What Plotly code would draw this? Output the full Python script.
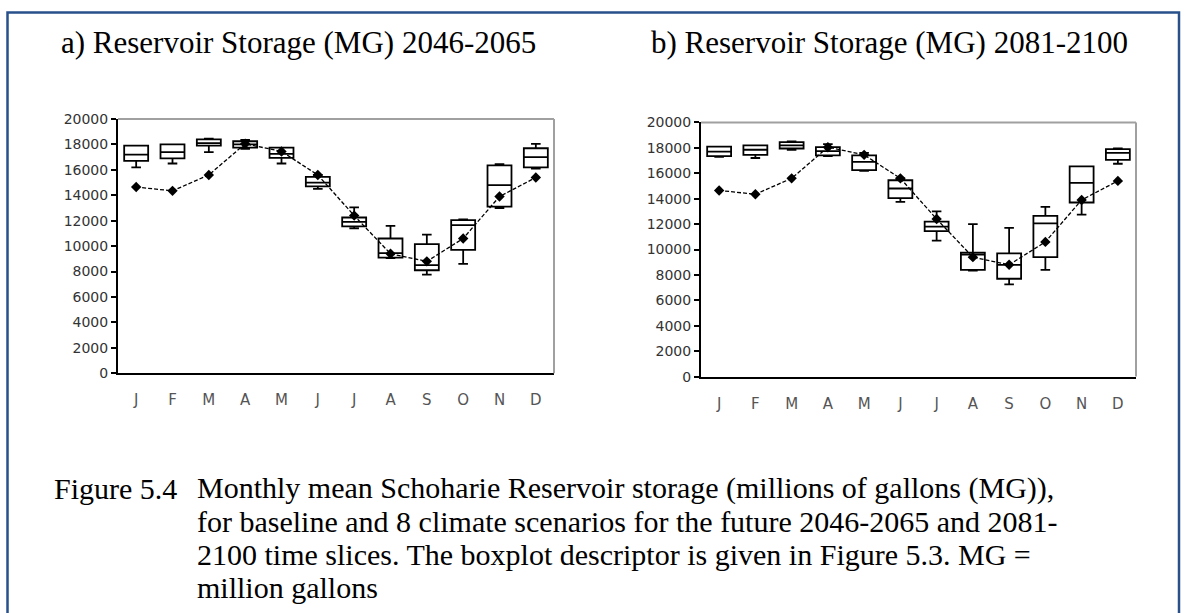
import plotly.graph_objects as go

W, H = 1186, 613

months = ["J", "F", "M", "A", "M", "J", "J", "A", "S", "O", "N", "D"]
y_ticks = [0, 2000, 4000, 6000, 8000, 10000, 12000, 14000, 16000, 18000, 20000]

# Baseline monthly mean storage (MG) - same line in both panels
baseline = [14650, 14350, 15600, 18050, 17450, 15600, 12400, 9400, 8800, 10600, 13900, 15400]

# a) 2046-2065 box statistics
a_min = [16200, 16500, 17400, 17650, 16500, 14500, 11400, 9050, 7750, 8600, 13000, 16100]
a_q1 = [16700, 16900, 17900, 17750, 16950, 14700, 11550, 9100, 8100, 9700, 13100, 16200]
a_med = [17200, 17400, 18100, 18000, 17250, 15000, 11900, 9450, 8500, 11650, 14800, 17000]
a_q3 = [17900, 18000, 18400, 18250, 17750, 15450, 12250, 10600, 10150, 12050, 16350, 17700]
a_max = [17900, 18000, 18450, 18350, 17750, 15600, 13050, 11600, 10900, 12100, 16450, 18050]

# b) 2081-2100 box statistics
b_min = [17300, 17200, 17850, 17350, 16200, 13750, 10700, 8350, 7250, 8400, 12750, 16750]
b_q1 = [17350, 17450, 17950, 17400, 16250, 14050, 11450, 8400, 7700, 9400, 13700, 17050]
b_med = [17700, 17850, 18200, 17750, 16900, 14800, 11800, 9600, 8800, 12050, 15250, 17600]
b_q3 = [18100, 18200, 18450, 18050, 17400, 15450, 12200, 9750, 9700, 12650, 16550, 17900]
b_max = [18100, 18200, 18500, 18300, 17600, 15600, 13000, 12000, 11700, 13350, 16550, 17950]

titles = ["a) Reservoir Storage (MG) 2046-2065", "b) Reservoir Storage (MG) 2081-2100"]
caption_head = "Figure 5.4"
caption_lines = [
    "Monthly mean Schoharie Reservoir storage (millions of gallons (MG)),",
    "for baseline and 8 climate scenarios for the future 2046-2065 and 2081-",
    "2100 time slices. The boxplot descriptor is given in Figure 5.3. MG =",
    "million gallons",
]

idx = list(range(12))

def px_x(x):
    return x / W

def px_y(y):
    return (H - y) / H

fig = go.Figure()

panels = [
    dict(xa="x", ya="y", mn=a_min, q1=a_q1, md=a_med, q3=a_q3, mx=a_max),
    dict(xa="x2", ya="y2", mn=b_min, q1=b_q1, md=b_med, q3=b_q3, mx=b_max),
]

for p in panels:
    fig.add_trace(go.Box(
        x=idx, q1=p["q1"], median=p["md"], q3=p["q3"],
        lowerfence=p["mn"], upperfence=p["mx"],
        boxpoints=False, width=0.66, whiskerwidth=0.4,
        line=dict(color="black", width=1.8), fillcolor="rgba(255,255,255,0)",
        xaxis=p["xa"], yaxis=p["ya"], showlegend=False, hoverinfo="skip",
    ))
    fig.add_trace(go.Scatter(
        x=idx, y=baseline, mode="lines+markers",
        line=dict(color="black", width=1.3, dash="4px,2px"),
        marker=dict(symbol="diamond", size=8, color="black"),
        xaxis=p["xa"], yaxis=p["ya"], showlegend=False,
    ))

xaxis_common = dict(
    range=[-0.5, 11.5], tickmode="array", tickvals=idx, ticktext=months,
    showline=True, linecolor="black", linewidth=2, ticks="",
    showgrid=False, zeroline=False, ticklabelstandoff=12,
    tickfont=dict(family="DejaVu Sans", size=15, color="#555555"),
)
yaxis_common = dict(
    range=[0, 20000], tickmode="array", tickvals=y_ticks,
    ticktext=[str(v) for v in y_ticks],
    showline=True, linecolor="black", linewidth=2,
    ticks="outside", ticklen=5, tickwidth=1.5, tickcolor="black",
    showgrid=False, zeroline=False,
    tickfont=dict(family="DejaVu Sans", size=14, color="#333333"),
)

fig.update_layout(
    width=W, height=H,
    margin=dict(l=0, r=0, t=0, b=0),
    paper_bgcolor="white", plot_bgcolor="white",
    showlegend=False,
    xaxis=dict(domain=[px_x(118), px_x(554)], anchor="y", **xaxis_common),
    yaxis=dict(domain=[px_y(375), px_y(114)], anchor="x", **yaxis_common),
    xaxis2=dict(domain=[px_x(701), px_x(1136)], anchor="y2", **xaxis_common),
    yaxis2=dict(domain=[px_y(378.5), px_y(117.5)], anchor="x2", **yaxis_common),
)

shapes = []
for xr, yr in [("x domain", "y domain"), ("x2 domain", "y2 domain")]:
    shapes.append(dict(type="line", xref=xr, yref=yr, x0=0, x1=1, y0=1, y1=1,
                       line=dict(color="#a0a0a0", width=2)))
    shapes.append(dict(type="line", xref=xr, yref=yr, x0=1, x1=1, y0=0, y1=1,
                       line=dict(color="#a0a0a0", width=2)))
# page frame
shapes.append(dict(type="rect", xref="paper", yref="paper",
                   x0=px_x(7.5), x1=px_x(1179), y0=-0.05, y1=px_y(4.5),
                   line=dict(color="#28508a", width=2.5), fillcolor="rgba(0,0,0,0)"))
fig.update_layout(shapes=shapes)

ann = []
serif = dict(family="Liberation Serif", color="black")
ann.append(dict(text=titles[0], x=px_x(60), y=px_y(35), xref="paper", yref="paper",
                xanchor="left", yanchor="middle", showarrow=False, borderpad=0,
                font=dict(size=31, **serif)))
ann.append(dict(text=titles[1], x=px_x(650), y=px_y(35), xref="paper", yref="paper",
                xanchor="left", yanchor="middle", showarrow=False, borderpad=0,
                font=dict(size=31, **serif)))
ann.append(dict(text=caption_head, x=px_x(53), y=px_y(493), xref="paper", yref="paper",
                xanchor="left", yanchor="middle", showarrow=False, borderpad=0,
                font=dict(size=30, **serif)))
for i, line in enumerate(caption_lines):
    ann.append(dict(text=line, x=px_x(196), y=px_y(493 + 34 * i), xref="paper", yref="paper",
                    xanchor="left", yanchor="middle", showarrow=False, borderpad=0,
                    font=dict(size=30, **serif)))
fig.update_layout(annotations=ann)

fig.write_html(
    "out.html",
    config={"displayModeBar": False},
    post_script="document.body.style.margin='0';document.body.style.overflow='hidden';",
)
